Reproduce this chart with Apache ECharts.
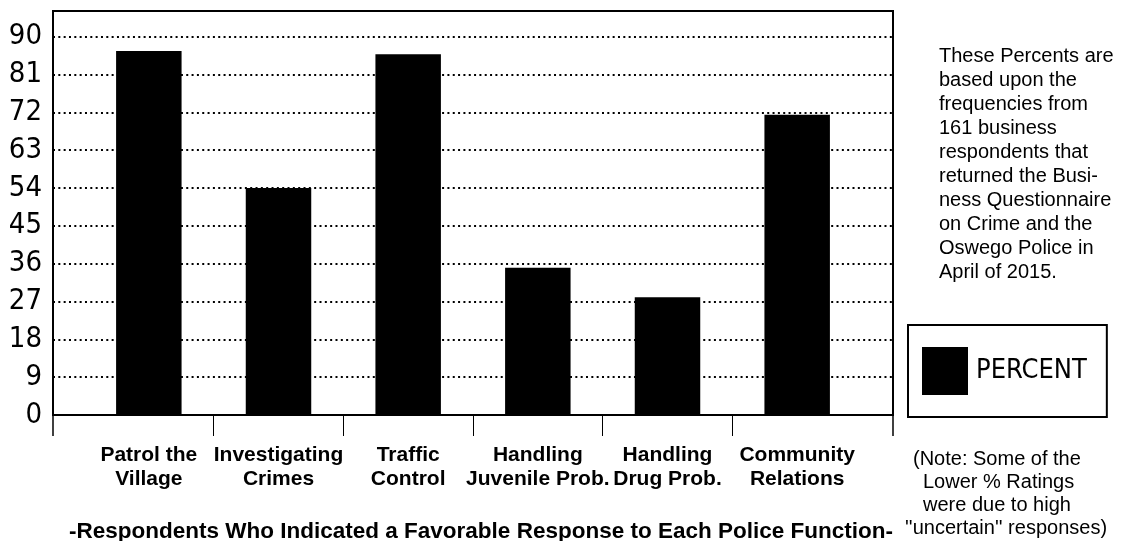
<!DOCTYPE html>
<html>
<head>
<meta charset="utf-8">
<title>Police Function Ratings</title>
<script src="https://cdn.jsdelivr.net/npm/echarts@6/dist/echarts.min.js"></script>
<style>
  html, body { margin: 0; padding: 0; background: #fff; }
  #chart { width: 1128px; height: 541px; }
</style>
</head>
<body>
<div id="chart"></div>
<script>
// Favorable-response percentages per police function
const categories = [
  'Patrol the\nVillage',
  'Investigating\nCrimes',
  'Traffic\nControl',
  'Handling\nJuvenile Prob.',
  'Handling\nDrug Prob.',
  'Community\nRelations'
];
const percents = [86.6, 54, 85.8, 35, 28, 71.4];
const seriesName = 'PERCENT';

// value axis: ticks every 9 up to 90, frame top a little above
const yStep = 9;
const yMax = 96.1;

const sideNote = [
  'These Percents are',
  'based upon the',
  'frequencies from',
  '161 business',
  'respondents that',
  'returned the Busi-',
  'ness Questionnaire',
  'on Crime and the',
  'Oswego Police in',
  'April of 2015.'
];
const footNote = [
  '(Note: Some of the',
  'Lower % Ratings',
  'were due to high',
  "''uncertain'' responses)"
];
const footNoteIndent = [8, 18, 18, 0];
const xTitle = '-Respondents Who Indicated a Favorable Response to Each Police Function-';

const NARROW = "'Liberation Sans Narrow', 'DejaVu Sans Condensed', 'Arial Narrow', sans-serif";
const SANS = "'Liberation Sans', Arial, sans-serif";

const chart = echarts.init(document.getElementById('chart'), null, { renderer: 'canvas' });

const plotGrid = { left: 53, right: 235, top: 11, bottom: 126 };
const barGrid = { left: 84, right: 266, top: 11, bottom: 126 };

const option = {
  backgroundColor: '#fff',
  animation: false,
  grid: [
    // frame + dotted gridlines
    Object.assign({ show: true, borderColor: '#000', borderWidth: 2, backgroundColor: '#fff', containLabel: false }, plotGrid),
    // bars
    Object.assign({ containLabel: false }, barGrid),
    // category separators below the baseline
    { left: barGrid.left, right: barGrid.right, top: 415, height: 21, containLabel: false }
  ],
  xAxis: [
    { gridIndex: 0, type: 'value', min: 0, max: 1, show: false },
    {
      gridIndex: 1, type: 'category', data: categories,
      axisLine: { show: false }, axisTick: { show: false }, splitLine: { show: false },
      axisLabel: {
        interval: 0, margin: 28, color: '#000',
        fontFamily: SANS, fontWeight: 'bold', fontSize: 21, lineHeight: 24, align: 'center'
      }
    },
    {
      gridIndex: 2, type: 'category', data: categories,
      axisLine: { show: false }, axisTick: { show: false }, axisLabel: { show: false },
      splitLine: { show: true, interval: 0, showMinLine: false, showMaxLine: false,
        lineStyle: { color: '#000', width: 1 } }
    }
  ],
  yAxis: [
    {
      gridIndex: 0, type: 'value', min: 0, max: yMax, interval: yStep,
      axisLine: { show: false }, axisTick: { show: false },
      axisLabel: {
        margin: 11, color: '#000', fontFamily: NARROW, fontSize: 29,
        formatter: v => (v % yStep === 0 ? String(v) : '')
      },
      splitLine: {
        show: true, showMinLine: false, showMaxLine: false,
        lineStyle: { color: '#000', width: 2, type: [2, 3.33], cap: 'butt' }
      }
    },
    { gridIndex: 1, type: 'value', min: 0, max: yMax, interval: yStep, show: false },
    { gridIndex: 2, type: 'value', min: 0, max: 1, show: false }
  ],
  legend: {
    data: [seriesName],
    left: 908, top: 325,
    icon: 'rect', itemWidth: 46, itemHeight: 48,
    padding: [22, 20, 22, 14],
    borderColor: '#000', borderWidth: 2,
    selectedMode: false,
    itemStyle: { borderWidth: 0 },
    textStyle: { color: '#000', fontFamily: NARROW, fontSize: 27, padding: [0, 0, 0, 3] }
  },
  title: {
    text: xTitle,
    left: 476, top: 515, textAlign: 'center',
    textStyle: { color: '#000', fontFamily: SANS, fontWeight: 'bold', fontSize: 22.5 }
  },
  series: [
    {
      name: seriesName, type: 'bar', xAxisIndex: 1, yAxisIndex: 1,
      data: percents, barWidth: '50.5%',
      itemStyle: { color: '#000' }
    }
  ]
};

chart.setOption(option);

// short frame extensions under the baseline, plus side texts
const p0 = chart.convertToPixel({ gridIndex: 0 }, [0, 0]);
const p1 = chart.convertToPixel({ gridIndex: 0 }, [1, 0]);
const graphics = [
  { type: 'line', shape: { x1: p0[0], y1: p0[1], x2: p0[0], y2: p0[1] + 21 }, style: { stroke: '#000', lineWidth: 1.5 } },
  { type: 'line', shape: { x1: p1[0], y1: p1[1], x2: p1[0], y2: p1[1] + 21 }, style: { stroke: '#000', lineWidth: 1.5 } },
  {
    type: 'text', left: 939, top: 44,
    style: { text: sideNote.join('\n'), font: '20px ' + SANS, lineHeight: 24, fill: '#000' }
  }
];
footNote.forEach((line, i) => {
  graphics.push({
    type: 'text', left: 905 + footNoteIndent[i], top: 449 + i * 23.3,
    style: { text: line, font: '20px ' + SANS, fill: '#000' }
  });
});
chart.setOption({ graphic: graphics });
</script>
</body>
</html>
